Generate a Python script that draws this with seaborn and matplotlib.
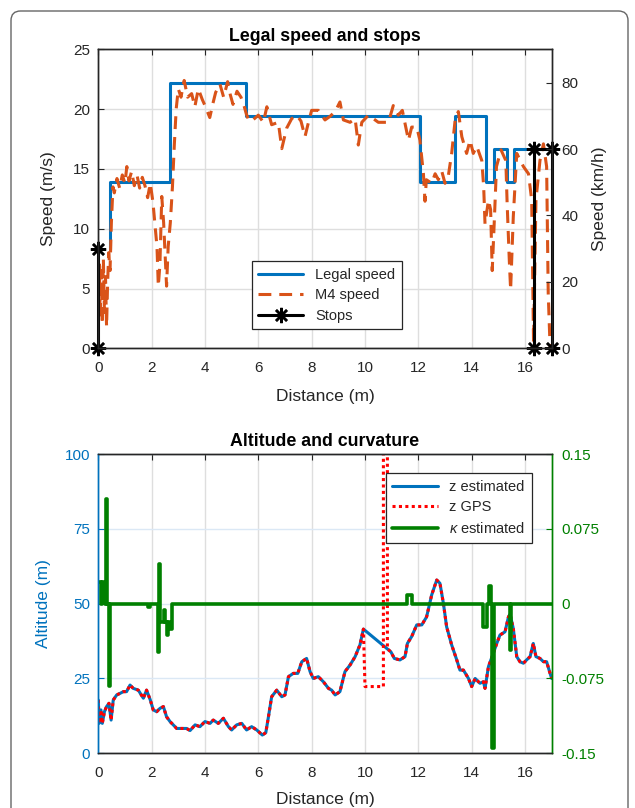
import matplotlib
matplotlib.use("Agg")
import matplotlib.pyplot as plt
import matplotlib.patches as patches
import seaborn as sns

# legal speed (step function, m/s)
legal_x = [0.43, 0.43, 2.69, 5.52, 12.08, 13.36, 14.53, 14.85, 15.33, 15.60, 17.0]
legal_v = [8.33, 13.89, 22.22, 19.44, 13.89, 19.44, 13.89, 16.67, 13.89, 16.67, 16.67]

# M4 measured speed (m/s)
m4_x = [0.00, 0.04, 0.07, 0.11, 0.15, 0.19, 0.23, 0.27, 0.31, 0.35, 0.39, 0.44, 0.49, 0.55,
        0.60, 0.70, 0.80, 0.90, 1.00, 1.07, 1.15, 1.25, 1.35, 1.45, 1.55, 1.65, 1.75, 1.85,
        1.95, 2.05, 2.12, 2.20, 2.25, 2.31, 2.38, 2.45, 2.50, 2.56, 2.62, 2.70, 2.78, 2.85,
        2.92, 3.00, 3.10, 3.22, 3.35, 3.50, 3.62, 3.75, 3.90, 4.00, 4.18, 4.30, 4.40, 4.56,
        4.70, 4.85, 4.95, 5.05, 5.20, 5.35, 5.45, 5.55, 5.65, 5.80, 6.00, 6.19, 6.32, 6.50,
        6.75, 6.88, 7.06, 7.25, 7.44, 7.60, 7.75, 7.88, 8.00, 8.25, 8.50, 8.69, 8.88, 9.06,
        9.19, 9.44, 9.63, 9.75, 9.88, 10.13, 10.50, 10.88, 11.06, 11.25, 11.40, 11.50, 11.63,
        11.75, 11.94, 12.06, 12.19, 12.25, 12.30, 12.50, 12.63, 12.75, 12.88, 13.00, 13.13,
        13.25, 13.38, 13.50, 13.63, 13.81, 13.94, 14.06, 14.19, 14.38, 14.45, 14.50, 14.63,
        14.71, 14.77, 14.84, 14.93, 15.10, 15.28, 15.33, 15.41, 15.46, 15.56, 15.69, 15.94,
        16.13, 16.25, 16.32, 16.41, 16.56, 16.69, 16.81, 16.87, 16.94]
m4_v = [3.0, 7.0, 2.5, 6.5, 2.0, 7.5, 3.0, 6.0, 1.8, 5.5, 8.0, 6.5, 10.5, 13.5,
        13.0, 14.2, 13.4, 14.5, 13.8, 15.2, 14.0, 14.8, 13.6, 14.5, 13.4, 14.3, 13.6, 12.6,
        13.8, 12.2, 10.5, 8.5, 5.2, 7.0, 12.7, 10.5, 8.0, 5.2, 8.5, 10.5, 13.5, 17.0,
        20.0, 21.7, 21.0, 22.4, 21.0, 21.3, 20.2, 21.7, 20.8, 20.3, 19.3, 20.5, 21.4, 22.1,
        21.0, 22.3, 21.2, 20.4, 21.5, 21.0, 20.4, 19.6, 19.0, 19.1, 19.5, 18.9, 20.2, 18.7,
        18.9, 16.7, 18.4, 19.2, 19.5, 19.0, 17.7, 18.9, 19.9, 19.9, 19.1, 19.4, 19.8, 20.6,
        19.1, 18.9, 19.2, 17.0, 18.9, 19.5, 18.9, 18.9, 20.3, 19.5, 19.9, 18.8, 17.4,
        18.5, 18.5, 17.4, 14.6, 12.3, 14.1, 13.8, 14.6, 14.1, 14.8, 13.8, 14.5,
        16.3, 19.1, 19.8, 17.7, 16.3, 17.4, 16.3, 16.9, 15.7, 13.5, 10.4, 12.4,
        11.6, 6.5, 10.2, 15.2, 16.6, 15.7, 12.1, 7.4, 4.9, 11.0, 16.3, 15.2,
        14.6, 12.4, 0.4, 12.4, 15.7, 17.1, 15.2, 4.6, 0.1]

# stops (two separate polylines)
stop_x = [0.0, 0.0, 16.33, 16.33, 17.0, 17.0]
stop_v = [8.33, 0.0, 0.0, 16.67, 16.67, 0.0]
stop_group = [0, 0, 1, 1, 1, 1]

# estimated altitude (m)
alt_x = [0.00, 0.03, 0.10, 0.15, 0.23, 0.31, 0.40, 0.48, 0.56, 0.69, 0.81, 0.94, 1.06, 1.19,
         1.31, 1.50, 1.69, 1.81, 1.95, 2.06, 2.19, 2.31, 2.44, 2.56, 2.69, 2.81, 2.94, 3.13,
         3.31, 3.44, 3.63, 3.81, 4.00, 4.19, 4.31, 4.50, 4.69, 4.88, 5.00, 5.19, 5.38, 5.56,
         5.75, 5.94, 6.15, 6.28, 6.38, 6.50, 6.69, 6.88, 7.00, 7.13, 7.31, 7.48, 7.63, 7.81,
         7.94, 8.06, 8.25, 8.44, 8.63, 8.75, 8.88, 9.06, 9.25, 9.44, 9.63, 9.81, 9.94, 10.97,
         11.10, 11.31, 11.50, 11.59, 11.75, 11.94, 12.13, 12.31, 12.50, 12.69, 12.81, 12.94,
         13.06, 13.25, 13.44, 13.56, 13.69, 13.88, 14.00, 14.13, 14.31, 14.44, 14.50, 14.63,
         14.81, 14.94, 15.06, 15.25, 15.38, 15.44, 15.56, 15.69, 15.81, 15.94, 16.06, 16.19,
         16.31, 16.41, 16.56, 16.69, 16.81, 16.94, 17.00]
alt_z = [17.8, 10.0, 14.5, 10.0, 13.9, 15.6, 16.7, 11.1, 17.8, 19.5, 20.0, 20.6, 20.6, 22.8,
         21.7, 21.1, 18.4, 21.1, 17.8, 14.5, 13.9, 15.0, 15.6, 12.2, 10.6, 9.5, 8.3, 8.3,
         8.3, 7.6, 9.5, 8.9, 10.6, 10.0, 11.1, 10.0, 11.7, 8.9, 7.8, 9.5, 10.0, 7.8,
         8.9, 7.8, 6.1, 6.9, 12.2, 18.9, 21.1, 18.9, 19.5, 25.6, 26.7, 26.7, 30.6, 31.7,
         27.3, 25.0, 25.6, 23.9, 21.7, 21.1, 19.5, 20.6, 27.3, 29.5, 32.3, 36.2, 41.5, 33.9,
         31.7, 31.2, 32.3, 36.7, 39.0, 42.9, 42.9, 45.6, 52.9, 57.9, 56.8, 50.1,
         42.3, 36.2, 31.2, 27.8, 27.8, 25.0, 22.3, 25.0, 23.4, 23.9, 21.7, 29.0,
         33.4, 36.7, 39.5, 40.6, 45.6, 46.5, 41.7, 32.3, 30.6, 30.1, 31.2, 32.3,
         36.7, 32.3, 31.7, 30.6, 30.6, 26.7, 25.0]

# where GPS altitude departs from the estimate
gps_gap_x = [10.00, 10.69, 10.69, 10.84, 10.84]
gps_gap_z = [22.3, 22.3, 150.0, 150.0, 34.9]

# estimated curvature (step function)
kap_x = [0.00, 0.11, 0.14, 0.27, 0.30, 0.33, 0.40, 0.44, 1.85, 1.95, 2.24, 2.27, 2.29, 2.33,
         2.45, 2.50, 2.56, 2.62, 2.68, 2.78, 11.56, 11.75, 14.44, 14.59, 14.64, 14.72, 14.78,
         14.82, 15.45, 15.49, 17.0]
kap_v = [0.022, 0.0, 0.022, 0.0, 0.105, 0.0, -0.083, 0.0, -0.003, 0.0, -0.048, 0.0, 0.040,
         -0.018, -0.006, -0.018, -0.031, -0.018, -0.025, 0.0, 0.009, 0.0, -0.023, 0.0, 0.0177,
         0.0, -0.145, 0.0, -0.046, 0.0, 0.0]

BLUE = '#0072BD'
ORANGE = '#D95319'
GREEN = '#008000'
DARK = '#262626'

sns.set_style("white")
plt.rcParams['font.family'] = ['Liberation Sans', 'DejaVu Sans']
plt.rcParams['mathtext.fontset'] = 'custom'
plt.rcParams['mathtext.it'] = 'Liberation Sans:italic'

fig = plt.figure(figsize=(6.35, 8.08), dpi=100)

# frame around the figure
frame = patches.FancyBboxPatch((11 / 635, -0.05), 617 / 635, 797 / 808 + 0.05,
                               boxstyle='round,pad=0,rounding_size=0.015',
                               mutation_aspect=635 / 808,
                               transform=fig.transFigure, fill=False,
                               ec='#666666', lw=1.0)
fig.patches.append(frame)

TICK = 11
LAB = 12.5

# ---------- top: legal speed and stops ----------
ax1 = fig.add_axes([0.1548, 0.5689, 0.714, 0.370])
sns.lineplot(x=legal_x, y=legal_v, ax=ax1, color=BLUE, lw=2.2, estimator=None,
             sort=False, drawstyle='steps-post', legend=False)
sns.lineplot(x=m4_x, y=m4_v, ax=ax1, color=ORANGE, lw=2.2, estimator=None, sort=False,
             linestyle=(0, (4.2, 2.6)), legend=False)
sns.lineplot(x=stop_x, y=stop_v, units=stop_group, ax=ax1, color='black', lw=2.2,
             estimator=None, sort=False, marker=(8, 2, 0), markersize=11,
             markeredgewidth=1.8, markeredgecolor='black', legend=False, clip_on=False)

ax1.set_xlim(0, 17)
ax1.set_ylim(0, 25)
ax1.set_xticks(range(0, 17, 2))
ax1.set_yticks(range(0, 26, 5))
ax1.grid(True, color='#dedede', lw=1.0)
ax1.set_axisbelow(True)
ax1.tick_params(axis='x', direction='in', top=True, length=4, labelsize=TICK,
                colors=DARK, pad=9)
ax1.tick_params(axis='y', direction='in', right=False, length=4, labelsize=TICK,
                colors=DARK, pad=6)
for s in ax1.spines.values():
    s.set_color(DARK)
    s.set_linewidth(1.0)
ax1.set_xlabel('Distance (m)', fontsize=LAB, color=DARK, labelpad=10)
ax1.set_ylabel('Speed (m/s)', fontsize=LAB, color=DARK, labelpad=12)
ax1.set_title('Legal speed and stops', fontsize=12.8, fontweight='bold', color='black', pad=6)

ax2 = ax1.twinx()
ax2.set_ylim(0, 90)
ax2.set_yticks(range(0, 81, 20))
ax2.tick_params(direction='in', length=4, labelsize=TICK, colors=DARK, pad=7)
for s in ax2.spines.values():
    s.set_color(DARK)
    s.set_linewidth(1.0)
ax2.set_ylabel('Speed (km/h)', fontsize=LAB, color=DARK, labelpad=10)

lines1 = ax1.get_lines()
leg1 = ax1.legend(handles=[lines1[0], lines1[1], lines1[2]],
                  labels=['Legal speed', 'M4 speed', 'Stops'],
                  loc='lower left', bbox_to_anchor=(0.338, 0.0635), borderaxespad=0,
                  fontsize=10.5, handlelength=3.1, numpoints=1, fancybox=False,
                  framealpha=1, edgecolor=DARK, labelspacing=0.45, borderpad=0.45)
leg1.get_frame().set_linewidth(0.9)

# ---------- bottom: altitude and curvature ----------
gps_x = [x for x in alt_x if x <= 9.94] + gps_gap_x + [x for x in alt_x if x >= 10.97]
gps_z = [z for x, z in zip(alt_x, alt_z) if x <= 9.94] + gps_gap_z + \
        [z for x, z in zip(alt_x, alt_z) if x >= 10.97]

ax3 = fig.add_axes([0.1548, 0.0677, 0.714, 0.3704])
sns.lineplot(x=alt_x, y=alt_z, ax=ax3, color=BLUE, lw=2.2, estimator=None, sort=False,
             legend=False)
sns.lineplot(x=gps_x, y=gps_z, ax=ax3, color='#FF0000', lw=2.2, estimator=None, sort=False,
             linestyle=(0, (1, 1.1)), legend=False)
ax3.set_xlim(0, 17)
ax3.set_ylim(0, 100)
ax3.set_xticks(range(0, 17, 2))
ax3.set_yticks(range(0, 101, 25))
ax3.xaxis.grid(True, color='#dedede', lw=1.0)
ax3.yaxis.grid(True, color='#dbe8f5', lw=1.0)
ax3.set_axisbelow(True)
ax3.tick_params(axis='x', direction='in', top=True, length=4, labelsize=TICK,
                colors=DARK, pad=9)
ax3.tick_params(axis='y', direction='in', length=4, labelsize=TICK, colors=BLUE, pad=6)
for s in ax3.spines.values():
    s.set_color(DARK)
    s.set_linewidth(1.0)
ax3.spines['left'].set_color(BLUE)
ax3.spines['right'].set_color(GREEN)
ax3.set_xlabel('Distance (m)', fontsize=LAB, color=DARK, labelpad=9)
ax3.set_ylabel('Altitude (m)', fontsize=LAB, color=BLUE, labelpad=10)
ax3.set_title('Altitude and curvature', fontsize=12.8, fontweight='bold', color='black', pad=6)

ax4 = ax3.twinx()
sns.lineplot(x=kap_x, y=kap_v, ax=ax4, color=GREEN, lw=2.6, estimator=None, sort=False,
             drawstyle='steps-post', legend=False)
ax4.set_ylim(-0.15, 0.15)
ax4.set_yticks([-0.15, -0.075, 0, 0.075, 0.15])
ax4.set_yticklabels(['-0.15', '-0.075', '0', '0.075', '0.15'])
ax4.set_ylabel('')
ax4.tick_params(direction='in', length=4, labelsize=TICK, colors=GREEN, pad=7)
for s in ax4.spines.values():
    s.set_color(DARK)
    s.set_linewidth(1.0)
ax4.spines['left'].set_color(BLUE)
ax4.spines['right'].set_color(GREEN)

handles = ax3.get_lines()[:2] + ax4.get_lines()[:1]
leg2 = ax4.legend(handles=handles, labels=['z estimated', 'z GPS', r'$\kappa$ estimated'],
                  loc='upper right', bbox_to_anchor=(0.956, 0.9355), borderaxespad=0,
                  fontsize=10.5, handlelength=3.1, fancybox=False, framealpha=1,
                  edgecolor=DARK, labelspacing=0.45, borderpad=0.45)
leg2.get_frame().set_linewidth(0.9)

fig.savefig('out.png', dpi=100)
